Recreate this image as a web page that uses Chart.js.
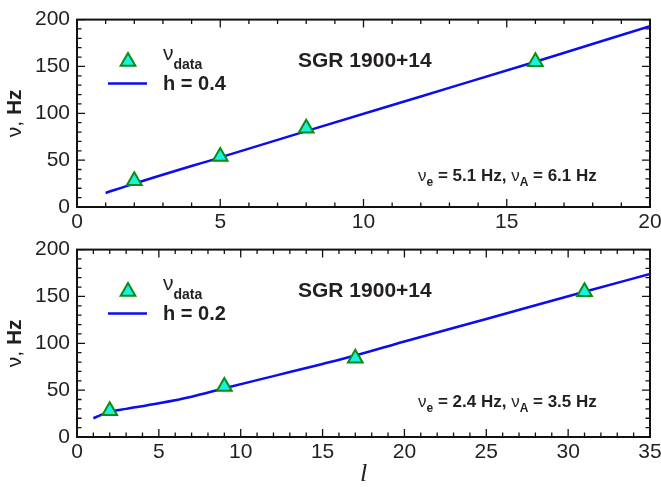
<!DOCTYPE html>
<html>
<head>
<meta charset="utf-8">
<script src="https://cdn.jsdelivr.net/npm/chart.js@4.4.1/dist/chart.umd.min.js"></script>
<style>
  body { margin: 0; background: #fff; }
  canvas { position: absolute; left: 0; }
  #chartTop { top: 0; }
  #chartBottom { top: 230px; }
</style>
</head>
<body>
<canvas id="chartTop" width="661" height="245"></canvas>
<canvas id="chartBottom" width="661" height="257"></canvas>
<script>
// observed QPO frequencies, Hz
const dataFreqs = [28, 54, 84, 155];
const yTicks = [0, 50, 100, 150, 200];

// top panel, h = 0.4
const topDataL = [2, 5, 8, 16];
const topModelL = [1, 2, 5, 8, 12, 16, 20];
const topModelFreq = [15, 25, 53, 81, 118, 155, 193];
const topXTicks = [0, 5, 10, 15, 20];

// bottom panel, h = 0.2
const bottomDataL = [2, 9, 17, 31];
const bottomModelL = [1, 2, 3, 5, 7, 9, 12, 15, 17, 20, 25, 31, 35];
const bottomModelFreq = [20, 27, 30, 36, 43, 52, 65, 78, 87, 102, 126, 155, 174];
const bottomXTicks = [0, 5, 10, 15, 20, 25, 30, 35];

const sourceName = "SGR 1900+14";
const topLegend = "h = 0.4";
const bottomLegend = "h = 0.2";
const topNu = ["5.1", "6.1"];
const bottomNu = ["2.4", "3.5"];

const TEXT = "#231f20";
const SANS = "'Liberation Sans', Arial, Helvetica, sans-serif";
const TRI_FILL = "#19f0e4";
const TRI_EDGE = "#0c8c10";
const LINE_BLUE = "#0c0cf0";

Chart.defaults.font.family = SANS;
Chart.defaults.color = TEXT;

function drawRuns(ctx, x, y, runs) {
  for (const [text, font, dy] of runs) {
    ctx.font = font;
    ctx.fillText(text, x, y + (dy || 0));
    x += ctx.measureText(text).width;
  }
  return x;
}

function runsWidth(ctx, runs) {
  let w = 0;
  for (const [text, font] of runs) {
    ctx.font = font;
    w += ctx.measureText(text).width;
  }
  return w;
}

// box with inward major/minor ticks on all four sides
const framePlugin = {
  id: "frame",
  beforeDatasetsDraw(chart) {
    const { ctx, chartArea: a, scales: { x, y } } = chart;
    ctx.save();
    ctx.strokeStyle = "#111";
    ctx.lineWidth = 1.3;
    ctx.beginPath();
    for (let v = x.min; v <= x.max; v++) {
      const px = x.getPixelForValue(v);
      const len = v % 5 === 0 ? 8 : 4.5;
      ctx.moveTo(px, a.bottom); ctx.lineTo(px, a.bottom - len);
      ctx.moveTo(px, a.top); ctx.lineTo(px, a.top + len);
    }
    for (let v = y.min; v <= y.max; v += 10) {
      const py = y.getPixelForValue(v);
      const len = v % 50 === 0 ? 8 : 4.5;
      ctx.moveTo(a.left, py); ctx.lineTo(a.left + len, py);
      ctx.moveTo(a.right, py); ctx.lineTo(a.right - len, py);
    }
    ctx.stroke();
    ctx.lineWidth = 2;
    ctx.strokeRect(a.left, a.top, a.right - a.left, a.bottom - a.top);
    ctx.restore();
  }
};

const textPlugin = {
  id: "panelText",
  afterDatasetsDraw(chart, args, opts) {
    const { ctx, chartArea: a } = chart;
    ctx.save();
    ctx.fillStyle = TEXT;
    ctx.textBaseline = "alphabetic";

    // legend
    const tri = chart.data.datasets[0];
    ctx.fillStyle = tri.backgroundColor;
    ctx.strokeStyle = tri.borderColor;
    ctx.lineWidth = tri.borderWidth;
    Chart.helpers.drawPoint(ctx, { pointStyle: "triangle", radius: tri.pointRadius, rotation: 0, borderWidth: tri.borderWidth }, 128, a.top + 42);
    ctx.strokeStyle = LINE_BLUE;
    ctx.lineWidth = 2.5;
    ctx.beginPath();
    ctx.moveTo(108, a.top + 64);
    ctx.lineTo(147, a.top + 64);
    ctx.stroke();

    ctx.fillStyle = TEXT;
    drawRuns(ctx, 163, a.top + 40, [["ν", "21px " + SANS, 0], ["data", "bold 14px " + SANS, 9]]);
    drawRuns(ctx, 163, a.top + 70, [[opts.legend, "bold 20px " + SANS, 0]]);
    drawRuns(ctx, 298, a.top + 47, [[sourceName, "bold 21px " + SANS, 0]]);

    const nu = opts.nu;
    drawRuns(ctx, 418, a.bottom - opts.annotDrop, [
      ["ν", "17px " + SANS, 0],
      ["e", "bold 12px " + SANS, 5],
      [" = " + nu[0] + " Hz, ", "bold 17px " + SANS, 0],
      ["ν", "17px " + SANS, 0],
      ["A", "bold 12px " + SANS, 5],
      [" = " + nu[1] + " Hz", "bold 17px " + SANS, 0]
    ]);

    // y axis title, rotated
    const runs = [["ν, ", "21px " + SANS, 0], ["Hz", "bold 21px " + SANS, 0]];
    ctx.translate(15, (a.top + a.bottom) / 2);
    ctx.rotate(-Math.PI / 2);
    ctx.textBaseline = "middle";
    drawRuns(ctx, -runsWidth(ctx, runs) / 2, 0, runs);
    ctx.restore();
  }
};

function makePanel(id, cfg) {
  return new Chart(document.getElementById(id), {
    type: "scatter",
    data: {
      datasets: [
        {
          label: "data",
          data: cfg.dataL.map((l, i) => ({ x: l, y: dataFreqs[i] })),
          pointStyle: "triangle",
          pointRadius: 8.5,
          backgroundColor: TRI_FILL,
          borderColor: TRI_EDGE,
          borderWidth: 2,
          order: 0
        },
        {
          type: "line",
          label: cfg.legend,
          data: cfg.modelL.map((l, i) => ({ x: l, y: cfg.modelFreq[i] })),
          borderColor: LINE_BLUE,
          borderWidth: 2.5,
          pointRadius: 0,
          cubicInterpolationMode: "monotone",
          order: 1
        }
      ]
    },
    options: {
      responsive: false,
      animation: false,
      events: [],
      layout: { padding: { top: cfg.padTop, right: 11, left: 0, bottom: 0 } },
      plugins: {
        legend: { display: false },
        tooltip: { enabled: false },
        panelText: { legend: cfg.legend, nu: cfg.nu, annotDrop: cfg.annotDrop }
      },
      scales: {
        x: {
          type: "linear",
          min: 0,
          max: cfg.xTicks[cfg.xTicks.length - 1],
          grid: { display: false, drawTicks: false },
          border: { display: false },
          ticks: { font: { size: 21 }, padding: 3, maxRotation: 0 },
          afterBuildTicks(s) { s.ticks = cfg.xTicks.map(v => ({ value: v })); },
          afterFit(s) { s.height = cfg.xHeight; s.paddingLeft = 0; s.paddingRight = 0; },
          title: cfg.xTitle
        },
        y: {
          min: 0,
          max: 200,
          grid: { display: false, drawTicks: false },
          border: { display: false },
          ticks: { font: { size: 21 }, padding: 7 },
          afterBuildTicks(s) { s.ticks = yTicks.map(v => ({ value: v })); },
          afterFit(s) { s.width = 77; }
        }
      }
    },
    plugins: [framePlugin, textPlugin]
  });
}

makePanel("chartTop", {
  dataL: topDataL, modelL: topModelL, modelFreq: topModelFreq, xTicks: topXTicks,
  legend: topLegend, nu: topNu, annotDrop: 26, padTop: 17, xHeight: 38,
  xTitle: { display: false }
});

makePanel("chartBottom", {
  dataL: bottomDataL, modelL: bottomModelL, modelFreq: bottomModelFreq, xTicks: bottomXTicks,
  legend: bottomLegend, nu: bottomNu, annotDrop: 30, padTop: 16, xHeight: 50,
  xTitle: { display: true, text: "l", padding: { top: 0, bottom: -3 }, font: { family: "'Liberation Serif', 'DejaVu Serif', serif", style: "italic", size: 26 } }
});
</script>
</body>
</html>
